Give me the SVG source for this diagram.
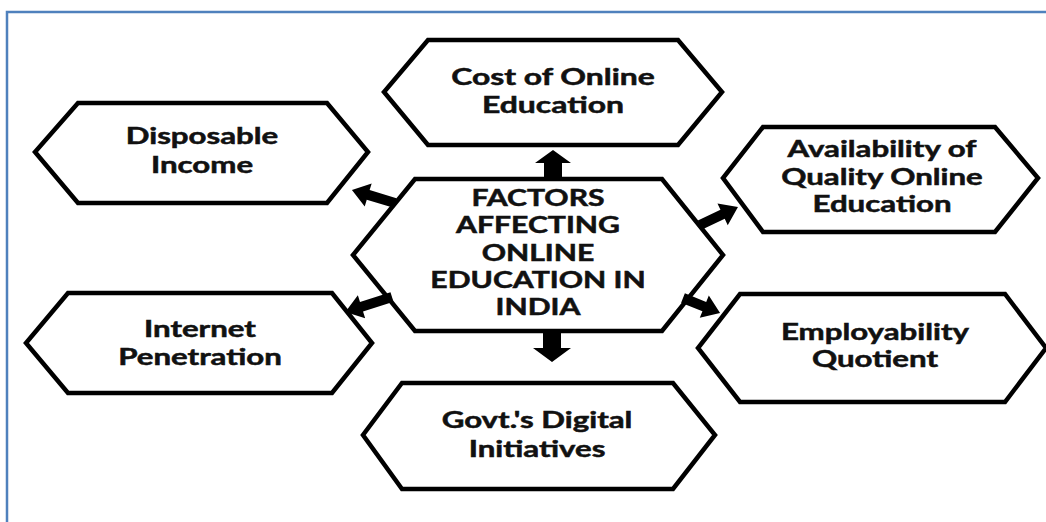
<svg xmlns="http://www.w3.org/2000/svg" width="1046" height="522" viewBox="0 0 1046 522">
<style>
.hex{fill:#fff;stroke:#000;stroke-width:4.5;stroke-linejoin:miter}
.t{font-family:Lato,"Open Sans",sans-serif;font-weight:bold;font-size:22px;fill:#111;stroke:#111;stroke-width:0.5;text-anchor:middle}
.arr{fill:#000}
.frame{fill:none;stroke:#4f81bd;stroke-width:2.5}
</style>
<rect width="1046" height="522" fill="#fff"/>
<path class="frame" d="M7,522 L7,12 L1046,12"/>
<g id="node-center">
<polygon class="hex" points="415,179 662,179 723,255 662,331 415,331 353,255"/>
<g transform="translate(538 0) scale(1.37 1)">
<text class="t" x="0" y="206">FACTORS</text>
<text class="t" x="0" y="233">AFFECTING</text>
<text class="t" x="0" y="261">ONLINE</text>
<text class="t" x="0" y="288">EDUCATION IN</text>
<text class="t" x="0" y="315">INDIA</text>
</g>
</g>
<g id="node-cost">
<polygon class="hex" points="428,40 678,40 722,92 678,145 428,145 384,92"/>
<g transform="translate(553 0) scale(1.45 1)">
<text class="t" x="0" y="85">Cost of Online</text>
<text class="t" x="0" y="113">Education</text>
</g>
</g>
<g id="node-disposable">
<polygon class="hex" points="78,103 327,103 368,152 327,203 78,203 35,152"/>
<g transform="translate(202 0) scale(1.42 1)">
<text class="t" x="0" y="144">Disposable</text>
<text class="t" x="0" y="173">Income</text>
</g>
</g>
<g id="node-internet">
<polygon class="hex" points="68,293 332,293 372,343 332,393 68,393 26,343"/>
<g transform="translate(200 0) scale(1.42 1)">
<text class="t" x="0" y="337">Internet</text>
<text class="t" x="0" y="365">Penetration</text>
</g>
</g>
<g id="node-availability">
<polygon class="hex" points="763,127 995,127 1038,178 995,232 763,232 723,178"/>
<g transform="translate(882 0) scale(1.42 1)">
<text class="t" x="0" y="157">Availability of</text>
<text class="t" x="0" y="185">Quality Online</text>
<text class="t" x="0" y="212">Education</text>
</g>
</g>
<g id="node-employability">
<polygon class="hex" points="740,294 1005,294 1046,348 1005,402 740,402 698,348"/>
<g transform="translate(875 0) scale(1.42 1)">
<text class="t" x="0" y="340">Employability</text>
<text class="t" x="0" y="367">Quotient</text>
</g>
</g>
<g id="node-govt">
<polygon class="hex" points="402,383 673,383 715,435 673,489 402,489 363,435"/>
<g transform="translate(537 0) scale(1.42 1)">
<text class="t" x="0" y="428">Govt.'s Digital</text>
<text class="t" x="0" y="457">Initiatives</text>
</g>
</g>
<g id="connectors">
<path class="arr" transform="translate(553,177) rotate(-90)" d="M0,-9 L14,-9 L14,-18 L27,0 L14,18 L14,9 L0,9 Z"/>
<path class="arr" transform="translate(552,333) rotate(90)" d="M0,-9 L15,-9 L15,-19 L29,0 L15,19 L15,9 L0,9 Z"/>
<path class="arr" transform="translate(395,203) rotate(-163.2)" d="M0,-5 L28,-5 L28,-12 L45,0 L28,12 L28,5 L0,5 Z"/>
<path class="arr" transform="translate(392,297) rotate(162.3)" d="M0,-5 L32,-5 L32,-12 L49,0 L32,12 L32,5 L0,5 Z"/>
<path class="arr" transform="translate(700,225) rotate(-25.3)" d="M0,-5 L25,-5 L25,-12 L42,0 L25,12 L25,5 L0,5 Z"/>
<path class="arr" transform="translate(683,298) rotate(22.1)" d="M0,-5 L23,-5 L23,-12 L40,0 L23,12 L23,5 L0,5 Z"/>
</g>
</svg>
